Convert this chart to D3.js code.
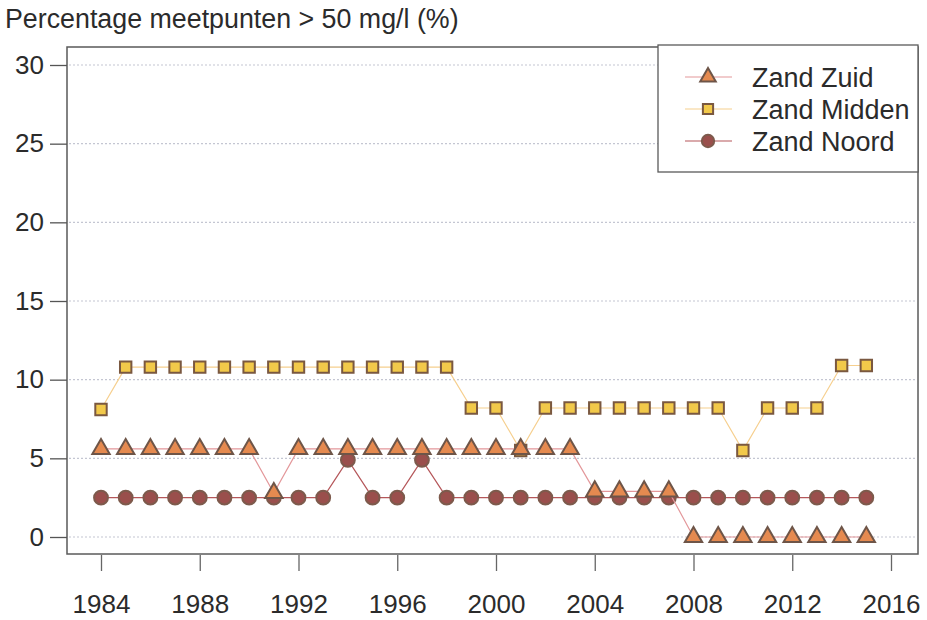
<!DOCTYPE html>
<html>
<head>
<meta charset="utf-8">
<script src="https://cdn.jsdelivr.net/npm/d3@7"></script>
<style>
  body { margin: 0; background: #fff; }
  text { font-family: "Liberation Sans", Arial, sans-serif; fill: #2b2b2b; }
</style>
</head>
<body>
<div id="chart"></div>
<script>
const years = d3.range(1984, 2016);
const zandZuid = [5.6, 5.6, 5.6, 5.6, 5.6, 5.6, 5.6, 2.8, 5.6, 5.6, 5.6, 5.6, 5.6, 5.6, 5.6, 5.6,
                  5.6, 5.6, 5.6, 5.6, 2.9, 2.9, 2.9, 2.9, 0, 0, 0, 0, 0, 0, 0, 0];
const zandMidden = [8.1, 10.8, 10.8, 10.8, 10.8, 10.8, 10.8, 10.8, 10.8, 10.8, 10.8, 10.8, 10.8, 10.8, 10.8, 8.2,
                    8.2, 5.5, 8.2, 8.2, 8.2, 8.2, 8.2, 8.2, 8.2, 8.2, 5.5, 8.2, 8.2, 8.2, 10.9, 10.9];
const zandNoord = [2.5, 2.5, 2.5, 2.5, 2.5, 2.5, 2.5, 2.5, 2.5, 2.5, 4.9, 2.5, 2.5, 4.9, 2.5, 2.5,
                   2.5, 2.5, 2.5, 2.5, 2.5, 2.5, 2.5, 2.5, 2.5, 2.5, 2.5, 2.5, 2.5, 2.5, 2.5, 2.5];
const xTicks = [1984, 1988, 1992, 1996, 2000, 2004, 2008, 2012, 2016];
const yTicks = [0, 5, 10, 15, 20, 25, 30];

const width = 927, height = 620;
const box = { left: 67, right: 918, top: 47, bottom: 554 };

const svg = d3.select("#chart").append("svg")
    .attr("width", width)
    .attr("height", height);

const x = d3.scaleLinear().domain([1984, 2016]).range([101, 891]);
const y = d3.scaleLinear().domain([0, 30]).range([537, 65]);

// title
svg.append("text")
    .attr("x", 5)
    .attr("y", 28)
    .style("font-size", "26.8px")
    .text("Percentage meetpunten > 50 mg/l (%)");

// dotted grid
svg.append("g").selectAll("line")
    .data(yTicks)
    .enter().append("line")
    .attr("x1", box.left + 2)
    .attr("x2", box.right - 2)
    .attr("y1", d => y(d))
    .attr("y2", d => y(d))
    .attr("stroke", "#c4c6d2")
    .attr("stroke-width", 1.2)
    .attr("stroke-dasharray", "2,2");

// frame
svg.append("rect")
    .attr("x", box.left)
    .attr("y", box.top)
    .attr("width", box.right - box.left)
    .attr("height", box.bottom - box.top)
    .attr("fill", "none")
    .attr("stroke", "#5a5a5a")
    .attr("stroke-width", 1.5);

// y axis
const yAxis = d3.axisLeft(y)
    .tickValues(yTicks)
    .tickSize(17)
    .tickPadding(6);
svg.append("g")
    .attr("class", "y axis")
    .attr("transform", "translate(" + box.left + ",0)")
    .call(yAxis)
    .call(g => g.select(".domain").remove())
    .call(g => g.selectAll(".tick line").attr("stroke", "#555").attr("stroke-width", 1.3))
    .call(g => g.selectAll(".tick text").style("font-size", "26px").attr("fill", "#2b2b2b")
        .style("font-family", "'Liberation Sans', Arial, sans-serif"));

// x axis
const xAxis = d3.axisBottom(x)
    .tickValues(xTicks)
    .tickFormat(d3.format("d"))
    .tickSize(16)
    .tickPadding(24);
svg.append("g")
    .attr("class", "x axis")
    .attr("transform", "translate(0," + (box.bottom + 1) + ")")
    .call(xAxis)
    .call(g => g.select(".domain").remove())
    .call(g => g.selectAll(".tick line").attr("stroke", "#666").attr("stroke-width", 1.3))
    .call(g => g.selectAll(".tick text").style("font-size", "26px").attr("fill", "#2b2b2b")
        .style("font-family", "'Liberation Sans', Arial, sans-serif"));

const series = [
    { name: "Zand Noord", values: zandNoord, line: "#b5575a", fill: "#9a4f4c", stroke: "#7d5a4c", shape: d3.symbolCircle, size: 150 },
    { name: "Zand Midden", values: zandMidden, line: "#f6cf8e", fill: "#f2c94a", stroke: "#7a5840", shape: d3.symbolSquare, size: 130 },
    { name: "Zand Zuid", values: zandZuid, line: "#e3979a", fill: "#e58a50", stroke: "#6e5548", shape: d3.symbolTriangle, size: 130 }
];

const line = d3.line()
    .x((d, i) => x(years[i]))
    .y(d => y(d));

series.forEach(s => {
    svg.append("path")
        .datum(s.values)
        .attr("fill", "none")
        .attr("stroke", s.line)
        .attr("stroke-width", 1.2)
        .attr("d", line);

    svg.append("g").selectAll("path")
        .data(s.values)
        .enter().append("path")
        .attr("transform", (d, i) => "translate(" + x(years[i]) + "," + y(d) + ")")
        .attr("d", d3.symbol().type(s.shape).size(s.size))
        .attr("fill", s.fill)
        .attr("stroke", s.stroke)
        .attr("stroke-width", 2);
});

// legend
const legend = svg.append("g");
legend.append("rect")
    .attr("x", 658)
    .attr("y", 45)
    .attr("width", box.right - 658)
    .attr("height", 127)
    .attr("fill", "#fff")
    .attr("stroke", "#5a5a5a")
    .attr("stroke-width", 1.3);

const legendOrder = [series[2], series[1], series[0]];
legendOrder.forEach((s, i) => {
    const ly = 77 + i * 32;
    legend.append("line")
        .attr("x1", 685).attr("x2", 732)
        .attr("y1", ly).attr("y2", ly)
        .attr("stroke", s.line)
        .attr("stroke-width", 1.2);
    legend.append("path")
        .attr("transform", "translate(708," + ly + ")")
        .attr("d", d3.symbol().type(s.shape).size(s.size * 0.8))
        .attr("fill", s.fill)
        .attr("stroke", s.stroke)
        .attr("stroke-width", 2);
    legend.append("text")
        .attr("x", 752)
        .attr("y", ly + 10)
        .style("font-size", "27px")
        .text(s.name);
});
</script>
</body>
</html>
